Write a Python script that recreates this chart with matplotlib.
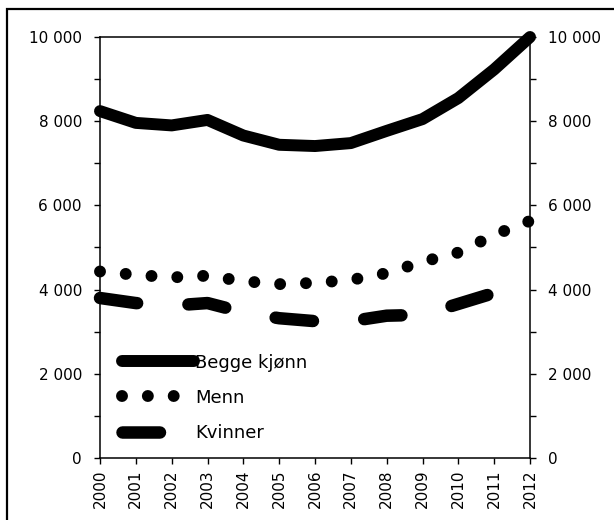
import matplotlib
matplotlib.use("Agg")
import matplotlib.pyplot as plt
from matplotlib.patches import Rectangle
from matplotlib.ticker import FuncFormatter, MultipleLocator

years = list(range(2000, 2013))
begge = [8240, 7960, 7900, 8030, 7660, 7440, 7410, 7480, 7770, 8050, 8550, 9230, 10000]
menn = [4430, 4350, 4290, 4330, 4200, 4130, 4160, 4230, 4390, 4660, 4880, 5300, 5630]
kvinner = [3800, 3680, 3620, 3680, 3460, 3320, 3250, 3250, 3380, 3400, 3660, 3920, 4370]
labels = ["Begge kjønn", "Menn", "Kvinner"]

plt.rcParams["font.family"] = ["DejaVu Sans"]
plt.rcParams["lines.scale_dashes"] = False

fig = plt.figure(figsize=(6.14, 5.2), dpi=100)
ax = fig.add_axes([100 / 614, 62 / 520, 430 / 614, 421 / 520])

ax.plot(years, begge, color="black", lw=8.6, solid_capstyle="round",
        solid_joinstyle="round", clip_on=False, label=labels[0])
ax.plot(years, menn, color="black", lw=8.6, linestyle=(0, (0.01, 18.6)),
        dash_capstyle="round", clip_on=False, label=labels[1])
ax.plot(years, kvinner, color="black", lw=9.0, linestyle=(0, (27, 37)),
        dash_capstyle="round", dash_joinstyle="round", clip_on=False,
        label=labels[2])

ax.set_xlim(2000, 2012)
ax.set_ylim(0, 10000)
ax.set_xticks(years)
ax.set_xticklabels([str(y) for y in years], rotation=90, fontsize=11)
ax.yaxis.set_major_locator(MultipleLocator(2000))
ax.yaxis.set_minor_locator(MultipleLocator(1000))
ax.yaxis.set_major_formatter(FuncFormatter(lambda v, p: f"{v:,.0f}".replace(",", " ")))
ax.tick_params(axis="y", which="both", left=True, right=True, labelleft=True,
               labelright=True, direction="out", length=4, width=1, labelsize=11, pad=9)
ax.tick_params(axis="x", direction="out", length=4, width=1, pad=4)
for s in ax.spines.values():
    s.set_linewidth(1.1)

ax.legend(loc="upper left", bbox_to_anchor=(0.051, 0.248), frameon=False,
          fontsize=13, handlelength=4.0, handletextpad=0.05,
          labelspacing=0.95, borderpad=0, borderaxespad=0)

fig.patches.append(Rectangle((7 / 614, -0.1), 1.2, 1 - 9 / 520 + 0.1,
                             transform=fig.transFigure, fill=False,
                             lw=1.6, ec="black"))

fig.savefig("out.png", dpi=100)
